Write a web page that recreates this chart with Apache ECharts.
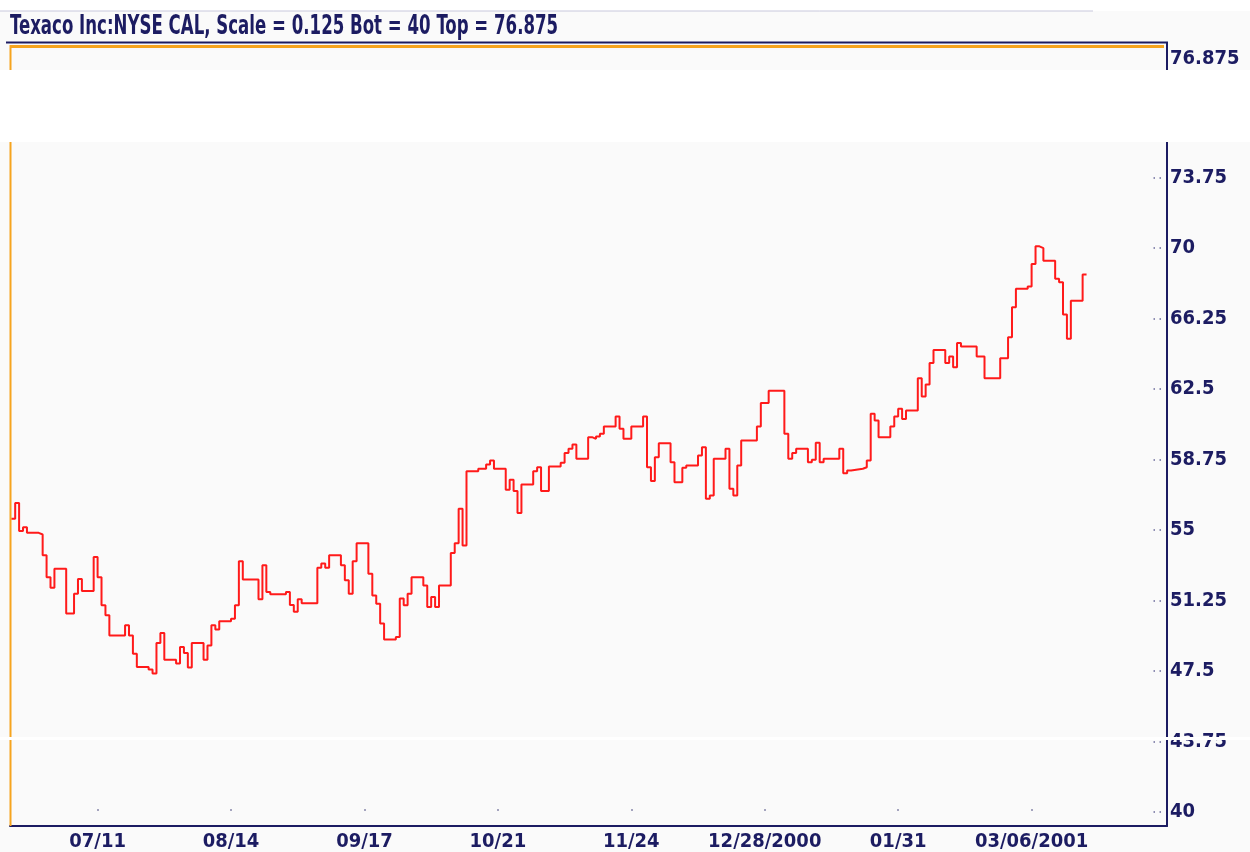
<!DOCTYPE html>
<html>
<head>
<meta charset="utf-8">
<script src="https://cdn.jsdelivr.net/npm/echarts@6/dist/echarts.min.js"></script>
<style>
  body { margin: 0; background: #fafafa; }
  #main { width: 1250px; height: 852px; }
</style>
</head>
<body>
<div id="main"></div>
<script>
// daily closes, one step per trading day (date the value starts)
const dates = [
  '2000-06-19', '2000-06-20', '2000-06-21', '2000-06-22', '2000-06-23', '2000-06-26', '2000-06-27', '2000-06-28', '2000-06-29', '2000-06-30',
  '2000-07-03', '2000-07-05', '2000-07-06', '2000-07-07', '2000-07-10', '2000-07-11', '2000-07-12', '2000-07-13', '2000-07-14', '2000-07-18',
  '2000-07-19', '2000-07-20', '2000-07-21', '2000-07-24', '2000-07-25', '2000-07-26', '2000-07-27', '2000-07-28', '2000-07-31', '2000-08-01',
  '2000-08-02', '2000-08-03', '2000-08-04', '2000-08-07', '2000-08-08', '2000-08-09', '2000-08-10', '2000-08-11', '2000-08-14', '2000-08-15',
  '2000-08-16', '2000-08-17', '2000-08-21', '2000-08-22', '2000-08-23', '2000-08-24', '2000-08-28', '2000-08-29', '2000-08-30', '2000-08-31',
  '2000-09-01', '2000-09-05', '2000-09-06', '2000-09-07', '2000-09-08', '2000-09-11', '2000-09-12', '2000-09-13', '2000-09-14', '2000-09-15',
  '2000-09-18', '2000-09-19', '2000-09-20', '2000-09-21', '2000-09-22', '2000-09-25', '2000-09-26', '2000-09-27', '2000-09-28', '2000-09-29',
  '2000-10-02', '2000-10-03', '2000-10-04', '2000-10-05', '2000-10-06', '2000-10-09', '2000-10-10', '2000-10-11', '2000-10-12', '2000-10-13',
  '2000-10-16', '2000-10-18', '2000-10-19', '2000-10-20', '2000-10-23', '2000-10-24', '2000-10-25', '2000-10-26', '2000-10-27', '2000-10-30',
  '2000-10-31', '2000-11-01', '2000-11-03', '2000-11-06', '2000-11-07', '2000-11-08', '2000-11-09', '2000-11-10', '2000-11-13', '2000-11-14',
  '2000-11-15', '2000-11-16', '2000-11-17', '2000-11-20', '2000-11-21', '2000-11-22', '2000-11-24', '2000-11-27', '2000-11-28', '2000-11-29',
  '2000-11-30', '2000-12-01', '2000-12-04', '2000-12-05', '2000-12-07', '2000-12-08', '2000-12-11', '2000-12-12', '2000-12-13', '2000-12-14',
  '2000-12-15', '2000-12-18', '2000-12-19', '2000-12-20', '2000-12-21', '2000-12-22', '2000-12-26', '2000-12-27', '2000-12-29', '2001-01-02',
  '2001-01-03', '2001-01-04', '2001-01-05', '2001-01-08', '2001-01-09', '2001-01-10', '2001-01-11', '2001-01-12', '2001-01-16', '2001-01-17',
  '2001-01-18', '2001-01-19', '2001-01-22', '2001-01-23', '2001-01-24', '2001-01-25', '2001-01-26', '2001-01-29', '2001-01-30', '2001-01-31',
  '2001-02-01', '2001-02-02', '2001-02-05', '2001-02-06', '2001-02-07', '2001-02-08', '2001-02-09', '2001-02-12', '2001-02-13', '2001-02-14',
  '2001-02-15', '2001-02-16', '2001-02-20', '2001-02-22', '2001-02-26', '2001-02-28', '2001-03-01', '2001-03-02', '2001-03-05', '2001-03-06',
  '2001-03-07', '2001-03-08', '2001-03-09', '2001-03-12', '2001-03-13', '2001-03-14', '2001-03-15', '2001-03-16', '2001-03-19', '2001-03-20'
]
const prices = [
  55.60, 56.43, 54.94, 55.15, 54.85, 54.76, 53.65, 52.49, 51.93, 52.94,
  50.55, 51.61, 52.39, 51.75, 53.56, 52.49, 50.99, 50.46, 49.39, 49.93,
  49.39, 48.42, 47.71, 47.57, 47.36, 48.98, 49.52, 48.10, 47.89, 48.77,
  48.45, 47.68, 48.98, 48.10, 48.86, 49.93, 49.71, 50.15, 50.28, 50.99,
  53.33, 52.37, 51.31, 53.12, 51.70, 51.58, 51.70, 51.01, 50.65, 51.31,
  51.10, 52.99, 53.21, 52.99, 53.65, 53.12, 52.32, 51.61, 53.34, 54.30,
  52.67, 51.52, 51.08, 50.02, 49.17, 49.30, 51.35, 50.99, 51.61, 52.49,
  52.05, 50.90, 51.43, 50.90, 52.05, 53.77, 54.30, 56.13, 54.18, 58.13,
  58.26, 58.49, 58.70, 58.26, 57.14, 57.67, 57.07, 55.90, 57.42, 58.13,
  58.34, 57.07, 58.38, 58.58, 59.09, 59.32, 59.55, 58.79, 59.94, 59.85,
  59.97, 60.12, 60.51, 61.04, 60.38, 59.85, 60.51, 61.04, 58.34, 57.60,
  58.87, 59.62, 58.61, 57.54, 58.31, 58.43, 58.96, 59.40, 56.66, 56.84,
  58.79, 59.32, 57.19, 56.84, 58.43, 59.76, 60.51, 61.76, 62.41, 60.12,
  58.79, 59.09, 59.32, 58.61, 58.73, 59.64, 58.61, 58.79, 59.32, 58.02,
  58.17, 58.26, 58.34, 58.70, 61.18, 60.82, 59.94, 60.51, 61.04, 61.45,
  60.91, 61.36, 63.07, 62.10, 62.74, 63.89, 64.58, 63.89, 64.23, 63.66,
  64.95, 64.76, 64.23, 63.07, 64.14, 65.25, 66.85, 67.83, 67.95, 69.15,
  70.09, 70.00, 69.33, 68.36, 68.18, 66.46, 65.17, 67.20, 68.59, 68.59
]
const tickDates = ['2000-07-11', '2000-08-14', '2000-09-17', '2000-10-21', '2000-11-24', '2000-12-28', '2001-01-31', '2001-03-06']
const tickLabels = ['07/11', '08/14', '09/17', '10/21', '11/24', '12/28/2000', '01/31', '03/06/2001']
const yLabels = [40, 43.75, 47.5, 51.25, 55, 58.75, 62.5, 66.25, 70, 73.75]

const toDay = (s) => Date.parse(s + 'T00:00:00Z') / 86400000
const tickDays = tickDates.map(toDay)
const firstTick = tickDays[0]

const navy = '#1c1c62'
const orange = '#f6a41e'
const font = "'DejaVu Sans Condensed', 'DejaVu Sans', sans-serif"

const chart = echarts.init(document.getElementById('main'))
chart.setOption({
  animation: false,
  backgroundColor: '#fafafa',
  grid: { left: 10, right: 83, top: 46, bottom: 26 },
  xAxis: {
    type: 'value',
    min: firstTick - 22.32,
    max: firstTick + 272.5,
    splitLine: { show: false },
    axisLine: { show: true, onZero: false, lineStyle: { color: navy, width: 2 } },
    axisTick: {
      show: true, inside: true, length: 18, customValues: tickDays,
      lineStyle: { color: '#8888aa', width: 1.5, type: [0, 15, 2, 10] }
    },
    axisLabel: {
      customValues: tickDays, margin: 6,
      color: navy, fontFamily: font, fontWeight: 'bold', fontSize: 20,
      formatter: (v) => tickLabels[tickDays.indexOf(v)]
    }
  },
  yAxis: {
    type: 'value',
    position: 'right',
    min: 39.25,
    max: 80.75,
    splitLine: { show: false },
    axisLine: { show: true, lineStyle: { color: navy, width: 2 } },
    axisTick: {
      show: true, inside: true, length: 14, customValues: yLabels,
      lineStyle: { color: '#6a6a9a', width: 1.5, type: [0, 6, 1.5, 4.5, 1.5, 10] }
    },
    axisLabel: {
      customValues: yLabels, margin: 3,
      color: navy, fontFamily: font, fontWeight: 'bold', fontSize: 20
    }
  },
  series: [{
    type: 'line',
    step: 'end',
    showSymbol: false,
    lineStyle: { color: '#ff1a1a', width: 2 },
    data: dates.map((d, i) => [toDay(d), prices[i]])
  }],
  graphic: [
    { type: 'rect', shape: { x: 0, y: 0, width: 1250, height: 11 }, style: { fill: '#ffffff' }, z: -1 },
    { type: 'line', shape: { x1: 0, y1: 11, x2: 1093, y2: 11 }, style: { stroke: '#c8c8dc', lineWidth: 1 } },
    {
      // title, narrowed to the width of the original condensed face
      type: 'text', x: 10, y: 14, scaleX: 0.71, z: 10,
      style: { text: 'Texaco Inc:NYSE CAL, Scale = 0.125 Bot = 40 Top = 76.875', fill: navy, font: 'bold 26px ' + font }
    },
    { type: 'line', shape: { x1: 6, y1: 42.5, x2: 1168, y2: 42.5 }, style: { stroke: navy, lineWidth: 2 }, z: 10 },
    { type: 'line', shape: { x1: 10, y1: 46.5, x2: 1164, y2: 46.5 }, style: { stroke: orange, lineWidth: 3 }, z: 10 },
    { type: 'line', shape: { x1: 10.5, y1: 45, x2: 10.5, y2: 826 }, style: { stroke: orange, lineWidth: 2 }, z: 10 },
    { type: 'line', shape: { x1: 1167, y1: 42, x2: 1167, y2: 50 }, style: { stroke: navy, lineWidth: 2 }, z: 10 },
    {
      type: 'text', x: 1170, y: 49, z: 10,
      style: { text: '76.875', fill: navy, font: 'bold 20px ' + font }
    },
    { type: 'rect', shape: { x: 0, y: 70, width: 1250, height: 72 }, style: { fill: '#ffffff' }, z: 100 },
    { type: 'rect', shape: { x: 0, y: 737, width: 1250, height: 3 }, style: { fill: '#ffffff' }, z: 100 }
  ]
})
</script>
</body>
</html>
